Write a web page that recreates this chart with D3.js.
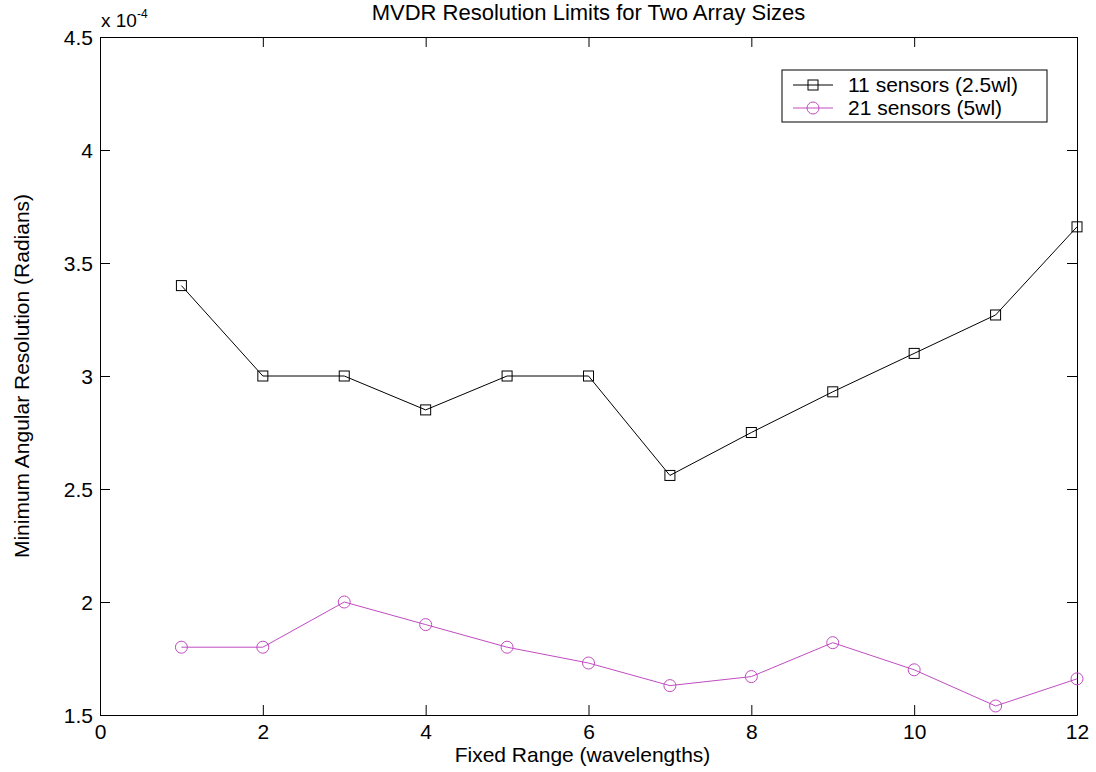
<!DOCTYPE html>
<html>
<head>
<meta charset="utf-8">
<script src="https://cdn.jsdelivr.net/npm/d3@7"></script>
<style>
  html, body { margin: 0; padding: 0; background: #fff; }
  svg { display: block; font-family: "Liberation Sans", Arial, sans-serif; }
</style>
</head>
<body>
<svg id="chart" width="1096" height="772"></svg>
<script>
// Fixed range in wavelengths
const ranges = [1, 2, 3, 4, 5, 6, 7, 8, 9, 10, 11, 12];
// Minimum angular resolution (x 1e-4 radians)
const sensors11 = [3.40, 3.00, 3.00, 2.85, 3.00, 3.00, 2.56, 2.75, 2.93, 3.10, 3.27, 3.66];
const sensors21 = [1.80, 1.80, 2.00, 1.90, 1.80, 1.73, 1.63, 1.67, 1.82, 1.70, 1.54, 1.66];
const xTicks = [0, 2, 4, 6, 8, 10, 12];
const yTicks = [1.5, 2, 2.5, 3, 3.5, 4, 4.5];
const seriesNames = ["11 sensors (2.5wl)", "21 sensors (5wl)"];

const svg = d3.select("#chart");
const plotL = 100, plotR = 1077, plotT = 37, plotB = 715;

const x = d3.scaleLinear().domain([0, 12]).range([plotL, plotR]);
const y = d3.scaleLinear().domain([1.5, 4.5]).range([plotB, plotT]);

const fmt = d => String(d);
const tickLen = 10;
const fontSize = "21px";

// Axes with inward ticks on all four sides
const gB = svg.append("g").attr("transform", `translate(0,${plotB})`)
  .call(d3.axisBottom(x).tickValues(xTicks).tickFormat(fmt).tickSizeInner(-tickLen).tickSizeOuter(0));
const gT = svg.append("g").attr("transform", `translate(0,${plotT})`)
  .call(d3.axisTop(x).tickValues(xTicks).tickFormat("").tickSizeInner(-tickLen).tickSizeOuter(0));
const gL = svg.append("g").attr("transform", `translate(${plotL},0)`)
  .call(d3.axisLeft(y).tickValues(yTicks).tickFormat(fmt).tickSizeInner(-tickLen).tickSizeOuter(0));
const gR = svg.append("g").attr("transform", `translate(${plotR},0)`)
  .call(d3.axisRight(y).tickValues(yTicks).tickFormat("").tickSizeInner(-tickLen).tickSizeOuter(0));

[gB, gT, gL, gR].forEach(g => {
  g.select(".domain").attr("stroke", "#000").attr("stroke-width", 1);
  g.selectAll(".tick line").attr("stroke", "#000");
  g.selectAll("text").attr("fill", "#000").style("font-size", fontSize)
    .style("font-family", "'Liberation Sans', Arial, sans-serif");
});
gB.selectAll("text").attr("dy", null).attr("y", 24);
gL.selectAll("text").attr("x", -7).attr("dy", "0.36em");

// Exponent label
const expo = svg.append("text").attr("x", 101).attr("y", 27)
  .style("font-size", "19px").attr("fill", "#000");
expo.append("tspan").text("x 10");
expo.append("tspan").attr("dy", -9).style("font-size", "12px").text("-4");

// Title and axis labels
svg.append("text").attr("x", (plotL + plotR) / 2).attr("y", 20)
  .attr("text-anchor", "middle").style("font-size", "22px").attr("fill", "#000")
  .text("MVDR Resolution Limits for Two Array Sizes");
svg.append("text").attr("x", (plotL + plotR) / 2 - 6).attr("y", 762)
  .attr("text-anchor", "middle").style("font-size", fontSize).attr("fill", "#000")
  .text("Fixed Range (wavelengths)");
svg.append("text")
  .attr("transform", `translate(29,${(plotT + plotB) / 2}) rotate(-90)`)
  .attr("text-anchor", "middle").style("font-size", fontSize).attr("fill", "#000")
  .text("Minimum Angular Resolution (Radians)");

const colors = ["#000000", "#c04cc0"];
const line = d3.line().x((d, i) => x(ranges[i])).y(d => y(d));

// Series 1: squares
svg.append("path").datum(sensors11).attr("d", line)
  .attr("fill", "none").attr("stroke", colors[0]).attr("stroke-width", 1);
svg.selectAll(".sq").data(sensors11).enter().append("rect")
  .attr("x", (d, i) => x(ranges[i]) - 5).attr("y", d => y(d) - 5)
  .attr("width", 10).attr("height", 10)
  .attr("fill", "none").attr("stroke", colors[0]).attr("stroke-width", 1);

// Series 2: circles
svg.append("path").datum(sensors21).attr("d", line)
  .attr("fill", "none").attr("stroke", colors[1]).attr("stroke-width", 1);
svg.selectAll(".ci").data(sensors21).enter().append("circle")
  .attr("cx", (d, i) => x(ranges[i])).attr("cy", d => y(d)).attr("r", 6)
  .attr("fill", "none").attr("stroke", colors[1]).attr("stroke-width", 1);

// Legend
const lg = svg.append("g");
lg.append("rect").attr("x", 782).attr("y", 70).attr("width", 265).attr("height", 52)
  .attr("fill", "#fff").attr("stroke", "#000").attr("stroke-width", 1);
const rowsY = [85, 108];
seriesNames.forEach((name, i) => {
  const yy = rowsY[i];
  lg.append("line").attr("x1", 793).attr("x2", 833).attr("y1", yy).attr("y2", yy)
    .attr("stroke", colors[i]).attr("stroke-width", 1);
  if (i === 0) {
    lg.append("rect").attr("x", 808).attr("y", yy - 5).attr("width", 10).attr("height", 10)
      .attr("fill", "none").attr("stroke", colors[i]);
  } else {
    lg.append("circle").attr("cx", 813).attr("cy", yy).attr("r", 6)
      .attr("fill", "none").attr("stroke", colors[i]);
  }
  lg.append("text").attr("x", 848).attr("y", yy + 7).style("font-size", fontSize)
    .attr("fill", "#000").text(name);
});
</script>
</body>
</html>
